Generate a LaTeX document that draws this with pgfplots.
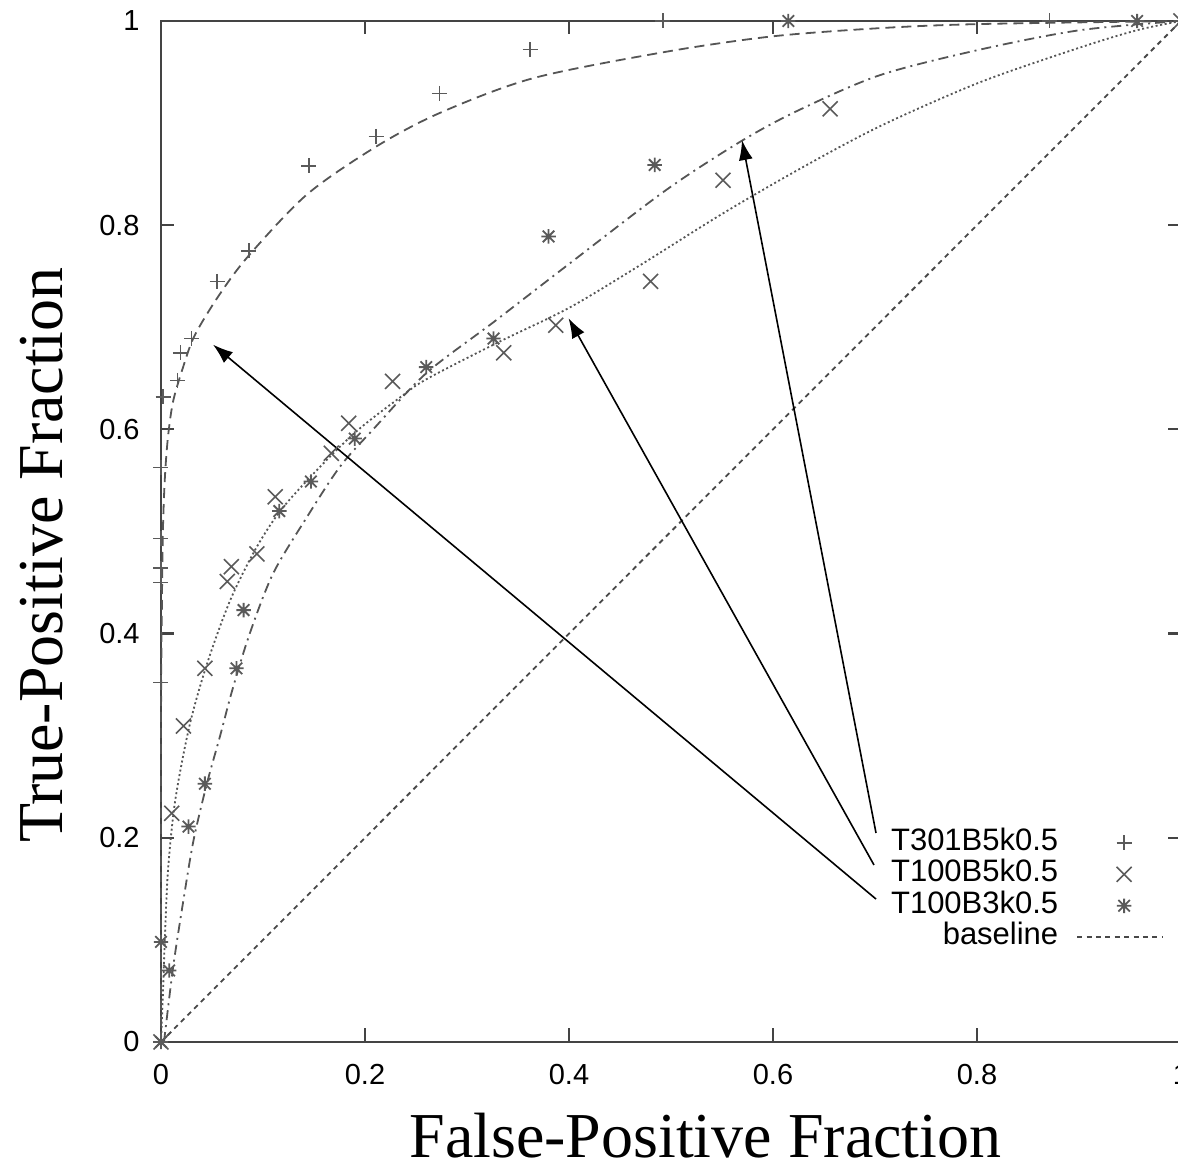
\documentclass[border=0pt]{standalone}
\usepackage{fontspec}
\setmainfont{Liberation Sans}
\newfontfamily\timesfont{Liberation Serif}
\usepackage{pgfplots}
\pgfplotsset{compat=1.18}
\usetikzlibrary{arrows.meta}
\pgfdeclareplotmark{gstar}{%
 \pgfpathmoveto{\pgfqpoint{-\pgfplotmarksize}{0pt}}\pgfpathlineto{\pgfqpoint{\pgfplotmarksize}{0pt}}%
 \pgfpathmoveto{\pgfqpoint{0pt}{-\pgfplotmarksize}}\pgfpathlineto{\pgfqpoint{0pt}{\pgfplotmarksize}}%
 \pgfpathmoveto{\pgfqpoint{-0.8\pgfplotmarksize}{-0.8\pgfplotmarksize}}\pgfpathlineto{\pgfqpoint{0.8\pgfplotmarksize}{0.8\pgfplotmarksize}}%
 \pgfpathmoveto{\pgfqpoint{-0.8\pgfplotmarksize}{0.8\pgfplotmarksize}}\pgfpathlineto{\pgfqpoint{0.8\pgfplotmarksize}{-0.8\pgfplotmarksize}}%
 \pgfusepathqstroke}
\definecolor{axcol}{HTML}{444444}
\definecolor{mk}{HTML}{5A5A5A}
\definecolor{cv}{HTML}{555555}
\begin{document}
\begin{tikzpicture}
\begin{axis}[
  scale only axis, width=510pt, height=510.5pt,
  xmin=0, xmax=1, ymin=0, ymax=1,
  clip=false,
  axis line style={color=axcol, line width=1.2pt},
  every tick/.style={color=axcol, line width=1.1pt},
  major tick length=6.75pt,
  tick align=inside,
  xtick={0,0.2,0.4,0.6,0.8,1}, ytick={0,0.2,0.4,0.6,0.8,1},
  xticklabels={0,0.2,0.4,0.6,0.8,1}, yticklabels={0,0.2,0.4,0.6,0.8,1},
  tick label style={font=\fontsize{14.5}{17}\selectfont, inner sep=0pt},
  xticklabel style={yshift=-11pt},
  yticklabel style={xshift=-10.5pt},
  legend style={at={(axis cs:0.9824,0.2105)}, anchor=north east, draw=none, fill=none,
     inner sep=0pt, outer sep=0pt, font=\fontsize{15.5}{18}\selectfont, row sep=0pt,
     nodes={inner sep=0pt, text height=11.5pt, text depth=4.25pt},
     /tikz/column sep=9pt},
  legend cell align=right,
  legend plot pos=right,
  legend image code/.code={\draw[mark repeat=2,mark phase=2,#1] plot coordinates {(0pt,0pt) (23.5pt,0pt) (42.5pt,0pt)};},
]
% fitted curves
\addplot[forget plot, cv, line width=0.9pt, dash pattern=on 5pt off 3pt, smooth, tension=0.5] coordinates {
(0,0) (0,0.3) (0.0008,0.42) (0.002,0.505) (0.004,0.556) (0.007,0.594) (0.012,0.628) (0.022,0.662)
(0.033,0.692) (0.056,0.730) (0.085,0.769) (0.143,0.830) (0.211,0.877) (0.2735,0.910) (0.365,0.944)
(0.496,0.970) (0.600,0.985) (0.705,0.993) (0.803,0.997) (1,1)};
\addplot[forget plot, cv, line width=0.9pt, dash pattern=on 1pt off 1.3pt, smooth, tension=0.5] coordinates {
(0,0) (0.002,0.05) (0.004,0.107) (0.007,0.17) (0.014,0.237) (0.028,0.31) (0.045,0.37) (0.068,0.433)
(0.094,0.485) (0.12,0.524) (0.1624,0.570) (0.195,0.601) (0.234,0.631) (0.26,0.649) (0.33,0.685)
(0.40,0.719) (0.47,0.761) (0.55,0.811) (0.626,0.855) (0.705,0.897) (0.803,0.940) (0.901,0.974)
(0.957,0.991) (1,1)};
\addplot[forget plot, cv, line width=0.9pt, dash pattern=on 5pt off 2.5pt on 1pt off 2.5pt, smooth, tension=0.5] coordinates {
(0.003,0) (0.004,0.009) (0.012,0.074) (0.022,0.139) (0.032,0.198) (0.045,0.253) (0.058,0.300)
(0.070,0.345) (0.087,0.400) (0.110,0.459) (0.143,0.514) (0.1755,0.5635) (0.208,0.600) (0.26,0.655)
(0.326,0.705) (0.4,0.762) (0.496,0.835) (0.57,0.883) (0.626,0.913) (0.705,0.947) (0.803,0.972)
(0.901,0.991) (1,1)};
% data points
\addplot[only marks, mark=+, mark size=3.75pt, mk, mark options={line width=0.8pt}] coordinates {
(0,0) (0,0.352) (0,0.45) (0,0.464) (0,0.493) (0,0.5625) (0.002,0.632) (0.016,0.648) (0.019,0.675)
(0.030,0.689) (0.055,0.745) (0.086,0.775) (0.145,0.858) (0.211,0.887) (0.273,0.929) (0.362,0.972)
(0.492,1.0) (0.871,1.0) (1,1)};
\addlegendentry{T301B5k0.5}
\addplot[only marks, mark=x, mark size=5.3pt, mk, mark options={line width=0.8pt}] coordinates {
(0,0) (0.0105,0.224) (0.022,0.3095) (0.043,0.366) (0.065,0.451) (0.069,0.4655) (0.094,0.478)
(0.112,0.534) (0.167,0.5766) (0.184,0.606) (0.227,0.647) (0.336,0.675) (0.387,0.702) (0.480,0.745)
(0.551,0.844) (0.656,0.914) (1,1)};
\addlegendentry{T100B5k0.5}
\addplot[only marks, mark=gstar, mark size=3.6pt, mk, mark options={line width=0.9pt}] coordinates {
(0,0) (0,0.098) (0.008,0.07) (0.027,0.211) (0.043,0.253) (0.074,0.366) (0.081,0.423) (0.116,0.520)
(0.147,0.549) (0.190,0.591) (0.260,0.661) (0.326,0.689) (0.380,0.789) (0.484,0.859) (0.615,1.0)
(0.957,1.0)};
\addlegendentry{T100B3k0.5}
\addplot[mk!80!black, line width=0.9pt, dash pattern=on 2.5pt off 2.2pt] coordinates {(0,0) (1,1)};
\addlegendentry{baseline}
% annotation arrows
\draw[black, line width=0.8pt, -{Latex[length=10pt,width=7pt]}] (axis cs:0.701,0.2047) -- (axis cs:0.5696,0.8834);
\draw[black, line width=0.8pt, -{Latex[length=10pt,width=7pt]}] (axis cs:0.699,0.1734) -- (axis cs:0.3995,0.709);
\draw[black, line width=0.8pt, -{Latex[length=10pt,width=7pt]}] (axis cs:0.701,0.140) -- (axis cs:0.051,0.683);
% axis titles
\node[rotate=90, anchor=base, font=\timesfont\fontsize{32}{38}\selectfont] at (axis cs:-0.0961,0.477) {True-Positive Fraction};
\node[anchor=base, font=\timesfont\fontsize{32}{38}\selectfont] at (axis cs:0.5338,-0.1135) {False-Positive Fraction};
\coordinate (bbl) at (axis cs:-0.15784,-0.12047);
\coordinate (btr) at (axis cs:0.99706,1.02057);
\end{axis}
\pgfresetboundingbox
\useasboundingbox (bbl) rectangle (btr);
\end{tikzpicture}
\end{document}
